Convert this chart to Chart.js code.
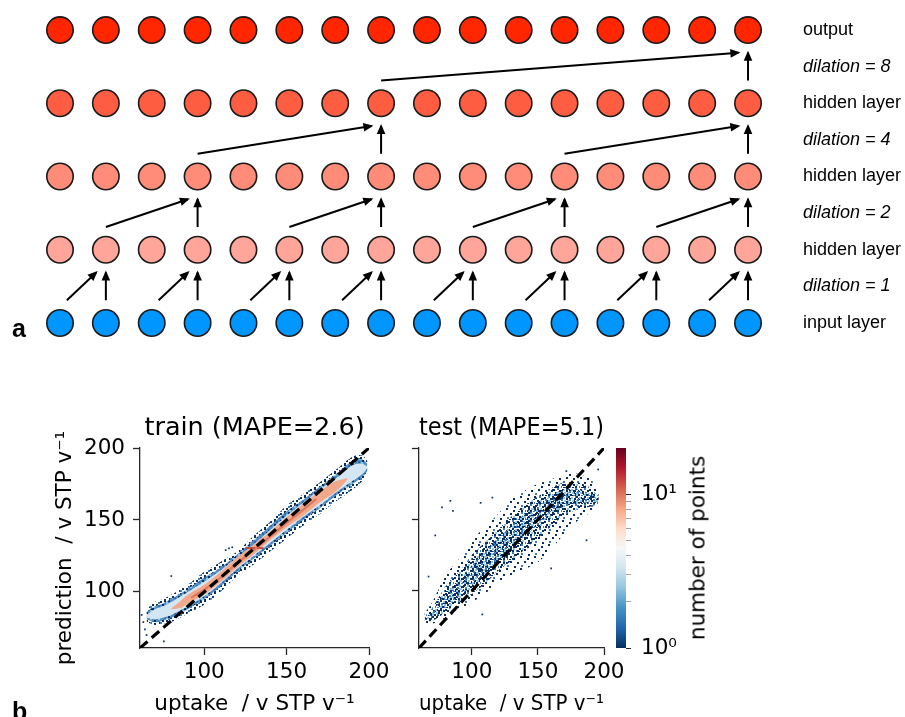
<!DOCTYPE html>
<html>
<head>
<meta charset="utf-8">
<script src="https://cdn.jsdelivr.net/npm/chart.js@4/dist/chart.umd.min.js"></script>
<style>
  body { margin: 0; background: #fff; width: 905px; height: 717px; overflow: hidden; position: relative; }
  canvas { position: absolute; }
  .panel { position: absolute; font-family: 'Liberation Sans', Arial, sans-serif; font-weight: bold; font-size: 25px; line-height: 25px; color: #000; }
  #cbTitle { position: absolute; left: 697px; top: 548px; font-family: 'DejaVu Sans', sans-serif; font-size: 21.5px;
             white-space: nowrap; transform: translate(-50%, -50%) rotate(-90deg); color: #000; }
</style>
</head>
<body>
<canvas id="net" width="905" height="350" style="left:0;top:0"></canvas>
<canvas id="train" width="360" height="317" style="left:40px;top:400px"></canvas>
<canvas id="test" width="230" height="317" style="left:400px;top:400px"></canvas>
<canvas id="cbar" width="100" height="317" style="left:606px;top:400px"></canvas>
<div class="panel" style="left:12px;top:316px">a</div>
<div class="panel" style="left:12px;top:699px">b</div>
<div id="cbTitle">number of points</div>
<script>
// Figure: (a) dilated convolution stack, (b) train/test parity density plots.

// ---- panel a data
const nodeCols = [0, 1, 2, 3, 4, 5, 6, 7, 8, 9, 10, 11, 12, 13, 14, 15];
const layerRows = [0, 1, 2, 3, 4];
const layerNames = ['input layer', 'hidden layer', 'hidden layer', 'hidden layer', 'output'];
const layerColours = ['#0096ff', '#ffa59a', '#ff8c79', '#ff5d42', '#ff2600'];
const dilations = [1, 2, 4, 8];
const dilationNames = ['dilation = 1', 'dilation = 2', 'dilation = 4', 'dilation = 8'];
const arrowTargets = [[1, 3, 5, 7, 9, 11, 13, 15], [3, 7, 11, 15], [7, 15], [15]];
const labelTicks = [0, 0.5, 1, 1.5, 2, 2.5, 3, 3.5, 4];

// ---- panel b data (envelopes of the point cloud)
const trainMin = 61;
const testMin = 60;
const axisMax = 200;
const axisTicks = [100, 150, 200];

const trainX       = [65, 70, 75, 80, 90, 100, 110, 120, 130, 140, 150, 160, 170, 180, 190, 196, 199];
const trainOuterLo = [79, 77, 78, 79, 85, 91, 100, 111, 119, 128, 137, 146, 154, 163, 171, 177, 182];
const trainOuterHi = [88, 93, 95, 98, 105, 114, 121, 128, 139, 149, 160, 168, 176, 185, 194, 195, 191];
const trainBlueLo  = [81, 79, 80, 82, 88, 95, 104, 114, 123, 132, 141, 150, 158, 167, 175, 180, 184];
const trainBlueHi  = [86, 90, 92, 95, 102, 110, 117, 126, 136, 146, 156, 164, 173, 182, 191, 192, 189];
const trainPaleLo  = [82, 81, 82, 84, 90, 97, 106, 116, 125, 134, 143, 152, 160, 169, 177, 182, 186];
const trainPaleHi  = [84, 88, 90, 93, 100, 107, 115, 124, 133, 143, 153, 162, 171, 179, 188, 189, 187];
const trainCoreX   = [80, 86, 90, 100, 110, 120, 130, 140, 150, 160, 170, 180, 187];
const trainCoreLo  = [88, 89, 92, 98, 107, 117, 126, 136, 145, 153, 162, 170, 178];
const trainCoreHi  = [88.5, 94, 98, 105, 114, 124, 133, 142, 152, 161, 170, 177, 179];
const trainRidgeX  = [92, 100, 110, 120, 130, 140, 150, 160, 168];
const trainRidgeY  = [96, 101.5, 110, 120, 129, 138.5, 148, 157, 164.5];
const trainStreakX = [125, 136];
const trainStreakY = [130.5, 130.5];
const trainOddX    = [62, 63, 64, 65, 68, 75.5, 80, 113, 115, 117];
const trainOddY    = [84, 79, 74, 70, 88, 65.6, 111, 129, 130.2, 131];

const testX        = [64, 70, 80, 90, 100, 110, 120, 130, 140, 150, 160, 170, 180, 190, 196];
const testOuterLo  = [78, 77, 81, 86, 92, 98, 106, 111, 115, 120, 129, 140, 149, 155, 160];
const testOuterHi  = [84, 92, 111, 122, 135, 145, 154, 164, 170, 175, 178, 182, 182, 178, 170];
const testMidLo    = [79, 79, 85, 92, 98, 105, 114, 121, 129, 137, 145, 153, 157, 159, 161];
const testMidHi    = [82, 88, 103, 113, 125, 134, 143, 152, 160, 166, 172, 176, 176, 172, 166];
const testInLo     = [80, 80, 88, 96, 104, 112, 121, 130, 138, 146, 153, 159, 161, 162, 162];
const testInHi     = [81, 85, 98, 107, 118, 128, 137, 146, 154, 161, 167, 171, 171, 168, 164];
const testOddX     = [77.4, 83.7, 85.7, 72.3, 106.6, 67.2, 115.5, 171.5, 195.6, 186.8, 160, 107.9];
const testOddY     = [158.4, 163, 156, 138.8, 161.6, 110, 165.3, 183.8, 185, 135.4, 115.8, 83.5];

const cbarMin = 1;
const cbarMax = 20;
const cbarTicks = [1, 2, 3, 4, 5, 6, 7, 8, 9, 10];
const cbarLabels = { 1: '10⁰', 10: '10¹' };

// ---- styling
const AX = '#262626';
const NAVY = '#0c2f62';
const MIDBLUE = '#3f7cba';
const PALEBLUE = '#92c5de';
const RDBU_R = ['#053061', '#2166ac', '#4393c3', '#92c5de', '#d1e5f0', '#f7f7f7',
                '#fddbc7', '#f4a582', '#d6604d', '#b2182b', '#67001f'];
const SANS = 'DejaVu Sans';

function dotPattern(ctx, w, h, bg, dots) {
  const c = document.createElement('canvas');
  c.width = w; c.height = h;
  const g = c.getContext('2d');
  if (bg) { g.fillStyle = bg; g.fillRect(0, 0, w, h); }
  dots.forEach(([x, y, col]) => { g.fillStyle = col; g.fillRect(x, y, 2, 2); });
  return ctx.createPattern(c, 'repeat');
}

// ---------- panel a ----------
const ARROW_GAP = 0.31;
const DIAG_END = 0.21;
const diagStart = [0.15, 0, 0, 0];

const netSets = layerRows.map((r, i) => ({
  data: nodeCols.map((c) => ({ x: c, y: r })),
  pointRadius: 13.2,
  pointBackgroundColor: layerColours[i],
  pointBorderColor: '#1a1a1a',
  pointBorderWidth: 1.6,
}));

dilations.forEach((d, l) => {
  arrowTargets[l].forEach((j) => {
    const ends = [
      [[j, l + ARROW_GAP], [j, l + 1 - ARROW_GAP]],
      [[j - d + diagStart[l], l + ARROW_GAP], [j - DIAG_END, l + 1 - ARROW_GAP]],
    ];
    ends.forEach(([a, b]) => netSets.push({
      isArrow: true, showLine: true, pointRadius: 0, borderColor: '#000', borderWidth: 2,
      data: [{ x: a[0], y: a[1] }, { x: b[0], y: b[1] }],
    }));
  });
});

const arrowHeads = {
  id: 'arrowHeads',
  afterDatasetsDraw(chart) {
    const ctx = chart.ctx;
    chart.data.datasets.forEach((ds, i) => {
      if (!ds.isArrow) return;
      const [a, b] = chart.getDatasetMeta(i).data;
      const ang = Math.atan2(b.y - a.y, b.x - a.x);
      ctx.save();
      ctx.translate(b.x + Math.cos(ang) * 2, b.y + Math.sin(ang) * 2);
      ctx.rotate(ang);
      ctx.beginPath();
      ctx.moveTo(0, 0); ctx.lineTo(-10, -4.3); ctx.lineTo(-10, 4.3); ctx.closePath();
      ctx.fillStyle = '#000'; ctx.fill();
      ctx.restore();
    });
  },
};

const isLayerTick = (c) => !c.tick || Number.isInteger(c.tick.value);

new Chart(document.getElementById('net'), {
  type: 'scatter',
  data: { datasets: netSets },
  plugins: [arrowHeads],
  options: {
    responsive: false, animation: false, events: [],
    layout: { autoPadding: false, padding: { left: 20, right: 0, top: 0, bottom: 0 } },
    plugins: { legend: { display: false }, tooltip: { enabled: false } },
    scales: {
      x: { type: 'linear', min: -0.872, max: 15.915, display: false },
      y: {
        type: 'linear', position: 'right', min: -0.369, max: 4.41,
        afterBuildTicks: (s) => { s.ticks = labelTicks.map((v) => ({ value: v })); },
        afterFit: (s) => { s.width = 115; s.paddingTop = 0; s.paddingBottom = 0; },
        grid: { display: false, drawTicks: false }, border: { display: false },
        ticks: {
          autoSkip: false, padding: 13, color: '#000',
          font: (c) => ({ family: 'Liberation Sans', size: 18, style: isLayerTick(c) ? 'normal' : 'italic' }),
          callback: (v) => Number.isInteger(v) ? layerNames[v] : dilationNames[Math.floor(v)],
        },
      },
    },
  },
});

// ---------- panel b ----------
function band(xs, lo, hi, fill, order) {
  const base = { type: 'line', pointRadius: 0, borderWidth: 0, borderColor: 'rgba(0,0,0,0)', tension: 0.3, order };
  return [
    { ...base, data: xs.map((x, i) => ({ x, y: lo[i] })), fill: false },
    { ...base, data: xs.map((x, i) => ({ x, y: hi[i] })), fill: '-1', backgroundColor: fill },
  ];
}

function odd(xs, ys) {
  return { type: 'scatter', data: xs.map((x, i) => ({ x, y: ys[i] })), pointStyle: 'rect',
           pointRadius: 1.2, pointBorderWidth: 0, pointBackgroundColor: NAVY, order: 2 };
}

function identity(min) {
  return { type: 'line', data: [{ x: min, y: min }, { x: axisMax, y: axisMax }], borderColor: '#000',
           borderWidth: 3.2, borderDash: [10, 5.5], pointRadius: 0, fill: false, order: 0 };
}

function parityOptions(title, min, yWidth, padRight, showYLabels) {
  const tickGrid = { drawOnChartArea: false, drawTicks: true, tickLength: 7, color: AX, tickColor: AX, tickWidth: 1.3 };
  const tickFont = { family: SANS, size: 21.5 };
  return {
    responsive: false, animation: false, events: [],
    layout: { autoPadding: false, padding: { left: 0, right: padRight, top: 0, bottom: 0 } },
    plugins: {
      legend: { display: false }, tooltip: { enabled: false },
      title: { display: true, text: title, fullSize: false, color: '#000',
               font: { family: SANS, size: 25.5, weight: 'normal' }, padding: { top: 12.7, bottom: 4.7 } },
    },
    scales: {
      x: {
        type: 'linear', min, max: axisMax,
        afterBuildTicks: (s) => { s.ticks = axisTicks.map((v) => ({ value: v })); },
        afterFit: (s) => { s.height = 69; s.paddingLeft = 0; s.paddingRight = 0; },
        grid: tickGrid, border: { display: true, color: AX, width: 1.3 },
        ticks: { color: '#000', font: tickFont, padding: 5, maxRotation: 0, autoSkip: false },
        title: { display: true, text: 'uptake  / v STP v⁻¹', color: '#000', font: tickFont, padding: { top: 0, bottom: 0 } },
      },
      y: {
        type: 'linear', min, max: axisMax,
        afterBuildTicks: (s) => { s.ticks = axisTicks.map((v) => ({ value: v })); },
        afterFit: (s) => { s.width = yWidth; s.paddingTop = 0; s.paddingBottom = 0; },
        grid: tickGrid, border: { display: true, color: AX, width: 1.3 },
        ticks: { color: '#000', font: tickFont, padding: 8, autoSkip: false,
                 callback: (v) => showYLabels ? String(v) : '' },
        title: { display: showYLabels, text: 'prediction  / v STP v⁻¹', color: '#000', font: tickFont,
                 padding: { top: 12.4, bottom: 0 } },
      },
    },
  };
}

// train
const trainCanvas = document.getElementById('train');
const tctx = trainCanvas.getContext('2d');
const trainFringe = dotPattern(tctx, 10, 8, null, [
  [0, 1, NAVY], [4, 0, NAVY], [8, 2, MIDBLUE], [2, 4, NAVY], [6, 4, NAVY],
  [9, 6, NAVY], [0, 6, MIDBLUE], [4, 7, NAVY],
]);
const trainBlue = dotPattern(tctx, 8, 8, '#548fc5', [
  [0, 0, NAVY], [4, 1, '#2f6aa8'], [2, 4, NAVY], [6, 5, '#2f6aa8'], [6, 2, PALEBLUE], [1, 6, PALEBLUE],
]);

new Chart(trainCanvas, {
  type: 'line',
  data: {
    datasets: [
      ...band(trainX, trainOuterLo, trainOuterHi, trainFringe, 10),
      ...band(trainX, trainBlueLo, trainBlueHi, trainBlue, 8),
      ...band(trainX, trainPaleLo, trainPaleHi, '#d3e6f1', 6),
      ...band(trainCoreX, trainCoreLo, trainCoreHi, '#f2a98b', 4),
      { type: 'line', data: trainRidgeX.map((x, i) => ({ x, y: trainRidgeY[i] })), borderColor: '#e0775c',
        borderWidth: 2.2, pointRadius: 0, tension: 0.3, fill: false, order: 3 },
      { type: 'line', data: trainStreakX.map((x, i) => ({ x, y: trainStreakY[i] })), borderColor: '#c0392f',
        borderWidth: 1.6, pointRadius: 0, fill: false, order: 3 },
      odd(trainOddX, trainOddY),
      identity(trainMin),
    ],
  },
  options: parityOptions('train (MAPE=2.6)', trainMin, 100, 31, true),
});

// test
const testCanvas = document.getElementById('test');
const sctx = testCanvas.getContext('2d');
const testSparse = dotPattern(sctx, 14, 12, null, [
  [1, 2, NAVY], [8, 0, NAVY], [12, 5, NAVY], [5, 6, NAVY], [9, 9, MIDBLUE], [2, 10, NAVY],
]);
const testMid = dotPattern(sctx, 9, 8, null, [
  [0, 1, NAVY], [4, 0, MIDBLUE], [7, 2, NAVY], [2, 4, NAVY], [5, 4, PALEBLUE],
  [8, 6, MIDBLUE], [1, 7, NAVY], [4, 6, NAVY],
]);
const testDense = dotPattern(sctx, 8, 8, null, [
  [0, 0, NAVY], [3, 1, PALEBLUE], [6, 2, NAVY], [1, 3, MIDBLUE], [4, 4, PALEBLUE],
  [7, 5, NAVY], [0, 6, PALEBLUE], [5, 7, MIDBLUE], [2, 6, NAVY],
]);

new Chart(testCanvas, {
  type: 'line',
  data: {
    datasets: [
      ...band(testX, testOuterLo, testOuterHi, testSparse, 10),
      ...band(testX, testMidLo, testMidHi, testMid, 8),
      ...band(testX, testInLo, testInHi, testDense, 6),
      odd(testOddX, testOddY),
      identity(testMin),
    ],
  },
  options: parityOptions('test (MAPE=5.1)', testMin, 19, 26, false),
});

// colour bar
new Chart(document.getElementById('cbar'), {
  type: 'bar',
  data: {
    labels: [''],
    datasets: [{
      data: [[cbarMin, cbarMax]], borderWidth: 0, barPercentage: 1, categoryPercentage: 1,
      backgroundColor: (c) => {
        const a = c.chart.chartArea;
        if (!a) return RDBU_R[0];
        const g = c.chart.ctx.createLinearGradient(0, a.bottom, 0, a.top);
        RDBU_R.forEach((col, i) => g.addColorStop(i / (RDBU_R.length - 1), col));
        return g;
      },
    }],
  },
  options: {
    responsive: false, animation: false, events: [],
    layout: { autoPadding: false, padding: { left: 10, right: 0, top: 48, bottom: 69 } },
    plugins: { legend: { display: false }, tooltip: { enabled: false } },
    scales: {
      x: { display: false },
      y: {
        type: 'logarithmic', position: 'right', min: cbarMin, max: cbarMax,
        afterBuildTicks: (s) => { s.ticks = cbarTicks.map((v) => ({ value: v })); },
        afterFit: (s) => { s.width = 80; s.paddingTop = 0; s.paddingBottom = 0; },
        grid: { drawOnChartArea: false, drawTicks: true, tickLength: 5,
                tickColor: (c) => (c.tick && cbarLabels[c.tick.value] ? AX : '#a0a0a0'), tickWidth: 1 },
        border: { display: false },
        ticks: { autoSkip: false, color: '#000', padding: 10, font: { family: SANS, size: 21.5 },
                 callback: (v) => cbarLabels[v] || '' },
      },
    },
  },
});
</script>
</body>
</html>
